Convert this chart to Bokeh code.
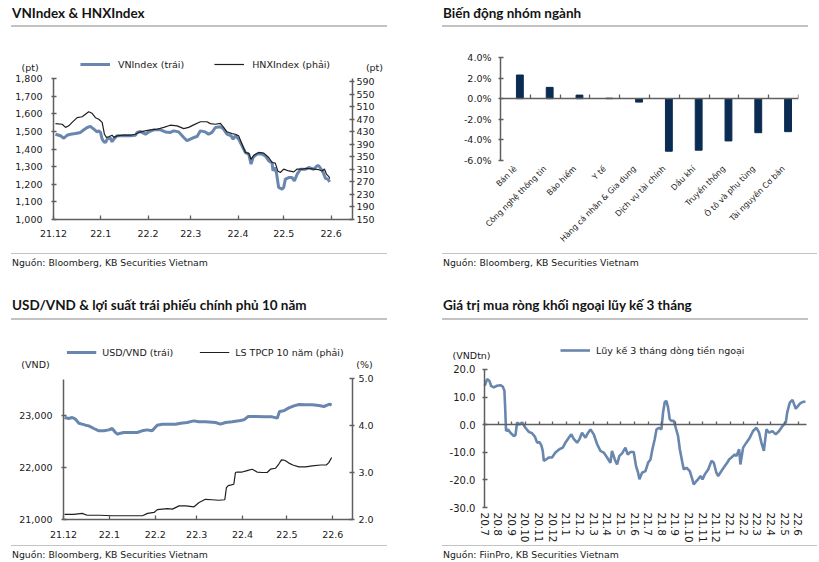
import math
import pandas as pd
from bokeh.plotting import figure
from bokeh.models import (Range1d, LinearAxis, CategoricalAxis, FixedTicker, NumeralTickFormatter,
                          PrintfTickFormatter, Legend, LegendItem, Label, Div, FactorRange,
                          ColumnDataSource)
from bokeh.layouts import column, row
from bokeh.transform import dodge
from bokeh.embed import file_html
from bokeh.resources import INLINE

# ---------------- DATA ----------------
# Panel 1: VNIndex / HNXIndex (x = days since 2021-12-01)
vn_day = [1.3, 4.6, 6.8, 8.9, 11.1, 14.4, 17.7, 19.9, 22.1, 24.2, 26.4, 28.6, 29.7, 30.8, 31.9, 33.0,
          34.1, 35.2, 37.0, 38.4, 39.5, 41.7, 45.0, 50.4, 53.7, 54.8, 57.0, 60.3, 62.4, 65.7, 70.1,
          73.4, 76.6, 78.8, 82.1, 85.4, 87.5, 89.7, 91.9, 94.1, 96.3, 99.5, 101.7, 103.9, 106.1,
          109.4, 111.5, 113.7, 116.4, 117.7, 119.2, 121.4, 123.6, 125.8, 128.0, 129.5, 130.8,
          133.4, 136.7, 138.9, 141.1, 143.3, 143.9, 144.8, 146.1, 147.6, 149.8, 150.9, 152.0,
          154.2, 156.4, 157.9, 159.7, 161.9, 165.2, 167.4, 170.6, 172.8, 173.9, 175.5, 176.8,
          178.3, 179.8, 181.1]
vn_val = [1484, 1475, 1461, 1478, 1484, 1488, 1494, 1509, 1522, 1528, 1513, 1497, 1503, 1494, 1456,
          1441, 1437, 1456, 1465, 1441, 1456, 1475, 1475, 1475, 1478, 1494, 1499, 1484, 1497, 1509,
          1509, 1497, 1494, 1503, 1497, 1465, 1447, 1456, 1465, 1471, 1503, 1497, 1484, 1494, 1522,
          1526, 1513, 1484, 1475, 1456, 1475, 1456, 1418, 1380, 1371, 1314, 1352, 1371, 1371, 1361,
          1333, 1320, 1276, 1295, 1267, 1182, 1172, 1182, 1229, 1238, 1238, 1219, 1257, 1285, 1285,
          1295, 1285, 1305, 1305, 1285, 1267, 1233, 1229, 1214]
hnx_day = [1.3, 5.7, 7.9, 10.0, 12.2, 15.5, 18.8, 20.9, 23.1, 25.3, 27.5, 29.7, 31.9, 33.4, 34.7,
           36.2, 38.4, 39.5, 41.7, 45.0, 50.4, 53.7, 55.9, 59.2, 63.5, 67.9, 72.3, 76.6, 81.0, 85.4,
           88.6, 91.9, 96.3, 100.6, 102.8, 106.1, 109.4, 111.5, 113.7, 117.0, 119.2, 121.4, 123.6,
           125.8, 128.0, 129.5, 131.3, 134.5, 137.8, 141.1, 143.3, 145.4, 147.0, 148.7, 150.9,
           154.2, 157.5, 159.7, 163.0, 166.2, 170.6, 173.9, 176.1, 177.6, 178.9, 180.5, 181.1]
hnx_val = [456, 454, 444, 449, 460, 475, 478, 486, 494, 489, 475, 470, 460, 422, 412, 414, 419, 412,
           417, 419, 419, 422, 428, 432, 436, 438, 444, 451, 449, 440, 444, 452, 462, 462, 456, 454,
           457, 444, 430, 424, 422, 417, 390, 364, 361, 342, 355, 364, 362, 348, 332, 330, 305, 300,
           311, 305, 302, 311, 311, 313, 311, 309, 305, 311, 295, 287, 281]
month_labels = ["21.12", "22.1", "22.2", "22.3", "22.4", "22.5", "22.6"]
vn_ticks = [1000, 1100, 1200, 1300, 1400, 1500, 1600, 1700, 1800]
hnx_ticks = [150, 190, 230, 270, 310, 350, 390, 430, 470, 510, 550, 590]

# Panel 2: sector performance (%)
sectors = ["Bán lẻ", "Công nghệ thông tin", "Bảo hiểm", "Y tế", "Hàng cá nhân & Gia dụng",
           "Dịch vụ tài chính", "Dầu khí", "Truyền thông", "Ô tô và phụ tùng", "Tài nguyên Cơ bản"]
sector_change = [2.3, 1.1, 0.35, 0.05, -0.33, -5.1, -5.0, -4.1, -3.3, -3.2]
pct_ticks = [-6, -4, -2, 0, 2, 4]

# Panel 3: USD/VND and 10Y government bond yield
usd_day = [0.7, 3.6, 5.9, 8.1, 10.4, 12.6, 14.9, 17.1, 20.5, 23.9, 27.3, 30.6, 32.9, 35.1, 36.7,
           38.5, 40.8, 45.2, 49.8, 53.1, 56.5, 59.9, 63.3, 66.7, 72.3, 75.7, 79.1, 83.6, 88.1, 91.4,
           95.9, 102.7, 106.1, 109.5, 114.0, 118.5, 121.9, 124.8, 129.8, 136.5, 141.0, 144.4, 146.0,
           148.9, 152.3, 155.7, 159.1, 163.6, 168.1, 172.6, 176.0, 178.2, 179.8, 181.2]
usd_val = [22962, 22942, 22962, 22929, 22852, 22833, 22814, 22801, 22750, 22705, 22705, 22724,
           22750, 22673, 22641, 22660, 22673, 22673, 22673, 22705, 22724, 22705, 22814, 22833,
           22833, 22833, 22852, 22865, 22897, 22878, 22878, 22865, 22833, 22865, 22878, 22897,
           22917, 22981, 22981, 22974, 22974, 22949, 23077, 23090, 23147, 23186, 23212, 23205,
           23205, 23192, 23173, 23199, 23218, 23199]
bond_day = [0.7, 7.0, 12.6, 16.0, 24.3, 33.1, 42.1, 53.4, 56.8, 61.2, 63.4, 66.8, 70.2, 73.6, 78.1,
            82.6, 88.2, 91.6, 95.9, 100.4, 104.9, 109.0, 110.1, 111.3, 112.8, 115.1, 116.2, 117.3,
            120.7, 124.1, 127.5, 130.8, 134.2, 137.6, 139.9, 143.2, 145.5, 147.3, 149.5, 152.3,
            155.0, 159.1, 163.6, 168.1, 173.7, 177.6, 179.3, 181.2]
bond_val = [2.11, 2.11, 2.13, 2.09, 2.09, 2.08, 2.08, 2.08, 2.13, 2.15, 2.21, 2.22, 2.23, 2.22, 2.29,
            2.29, 2.27, 2.36, 2.43, 2.42, 2.41, 2.42, 2.68, 2.72, 2.73, 2.75, 3.00, 3.01, 3.01, 3.04,
            3.07, 3.01, 3.00, 3.00, 3.07, 3.09, 3.18, 3.27, 3.26, 3.20, 3.16, 3.12, 3.12, 3.14, 3.16,
            3.16, 3.21, 3.32]
usd_ticks = [21000, 22000, 23000]
bond_ticks = [2.0, 3.0, 4.0, 5.0]

# Panel 4: 3-month cumulative foreign net buying (VND tn), x = months since 2020-07
flow_month = [0.02, 0.19, 0.36, 0.48, 0.68, 0.92, 1.17, 1.34, 1.46, 1.53, 1.58, 1.73, 1.90, 2.15,
              2.27, 2.39, 2.56, 2.76, 3.00, 3.25, 3.49, 3.69, 3.86, 4.03, 4.17, 4.27, 4.35, 4.52,
              4.71, 4.95, 5.20, 5.49, 5.74, 5.93, 6.18, 6.37, 6.54, 6.79, 6.96, 7.15, 7.40, 7.60,
              7.77, 8.01, 8.26, 8.50, 8.74, 8.99, 9.23, 9.35, 9.55, 9.72, 9.89, 10.09, 10.33, 10.50,
              10.70, 10.94, 11.11, 11.26, 11.36, 11.55, 11.80, 11.99, 12.17, 12.31, 12.48, 12.61,
              12.80, 12.97, 13.09, 13.22, 13.34, 13.46, 13.58, 13.70, 13.88, 14.02, 14.19, 14.32,
              14.51, 14.61, 14.81, 15.05, 15.24, 15.34, 15.54, 15.66, 15.83, 15.98, 16.15, 16.40,
              16.64, 16.81, 17.00, 17.13, 17.37, 17.61, 17.79, 17.93, 18.10, 18.35, 18.47, 18.67,
              18.76, 18.96, 19.20, 19.45, 19.69, 19.94, 20.13, 20.30, 20.48, 20.67, 20.87, 21.11,
              21.35, 21.60, 21.85, 22.09, 22.19, 22.38, 22.58, 22.82, 22.99, 23.16, 23.36, 23.53]
flow_val = [14.1, 16.5, 15.9, 14.1, 13.5, 14.1, 14.3, 13.8, 12.3, 4.4, -2.3, -1.7, -2.9, -4.1,
            -3.8, 0.8, 0.1, 0.8, -1.1, -2.6, -3.1, -4.3, -6.5, -6.3, -7.5, -9.5, -13.1, -12.6,
            -11.9, -11.9, -10.1, -8.9, -8.3, -6.5, -4.7, -3.5, -5.1, -6.5, -5.3, -2.9, -4.7, -2.9,
            -1.7, -3.5, -7.1, -9.5, -10.1, -11.9, -13.8, -9.5, -12.6, -14.4, -11.3, -10.4, -8.3,
            -10.8, -9.9, -9.9, -15.0, -17.4, -19.8, -17.4, -16.8, -13.8, -12.6, -8.9, -5.3, -1.7,
            -1.1, -1.7, 4.4, 8.3, 8.6, 6.2, 2.0, 1.4, 1.4, -1.1, -4.1, -8.9, -13.8, -16.2, -15.6,
            -16.8, -19.8, -21.6, -20.4, -19.8, -18.6, -19.8, -18.0, -16.2, -13.1, -13.8, -17.4,
            -18.6, -16.8, -15.0, -13.8, -12.6, -11.9, -10.8, -11.3, -8.9, -14.4, -8.3, -6.5, -4.7,
            -2.3, -1.1, -2.9, -6.5, -9.5, -1.7, -2.9, -2.3, -3.5, -2.3, -0.5, 0.8, 4.4, 8.0, 9.0,
            5.8, 6.8, 7.8, 8.3, 8.3]
flow_labels = ["20.7", "20.8", "20.9", "20.10", "20.11", "20.12", "21.1", "21.2", "21.3", "21.4",
               "21.5", "21.6", "21.7", "21.8", "21.9", "21.10", "21.11", "21.12", "22.1", "22.2",
               "22.3", "22.4", "22.5", "22.6"]
flow_ticks = [-30, -20, -10, 0, 10, 20]

# ---------------- STYLE ----------------
FONT = "DejaVu Sans"
AXIS_COLOR = "#5f5f5f"
BLUE = "#6886ae"
DARK = "#1f1f1f"
BAR = "#0b2c52"
TXT = "#1a1a1a"

month_days = [int(d.days) for d in
              (pd.date_range("2021-12-01", periods=len(month_labels), freq="MS") - pd.Timestamp("2021-12-01"))]
DAY_END_1 = 196      # right end of the date axis, panel 1
DAY_END_3 = 195.3    # right end of the date axis, panel 3
MONTH_END_4 = 23.6   # right end of the month axis, panel 4


def style_axis(ax, size="9.5px", tin=3, tout=2, standoff=5):
    ax.axis_line_color = AXIS_COLOR
    ax.axis_line_width = 1.5
    ax.major_tick_line_color = AXIS_COLOR
    ax.major_tick_line_width = 1.3
    ax.major_tick_in = tin
    ax.major_tick_out = tout
    ax.minor_tick_line_color = None
    ax.major_label_text_font = FONT
    ax.major_label_text_font_size = size
    ax.major_label_text_color = TXT
    ax.major_label_standoff = standoff


def base_fig(width, height, x_range, y_range, ml=0, mr=0, mt=0, mb=0):
    p = figure(width=width, height=height, x_range=x_range, y_range=y_range,
               output_backend="svg", toolbar_location=None, x_axis_type=None, y_axis_type=None,
               min_border_left=ml, min_border_right=mr, min_border_top=mt, min_border_bottom=mb)
    p.outline_line_color = None
    p.background_fill_color = "white"
    p.border_fill_color = "white"
    return p


def legend(items, location, margin=0, standoff=6, spacing=26):
    lg = Legend(items=items, location=location, orientation="horizontal")
    lg.border_line_color = None
    lg.background_fill_alpha = 0
    lg.label_text_font = FONT
    lg.label_text_font_size = "9.5px"
    lg.label_text_color = TXT
    lg.glyph_width = 30
    lg.glyph_height = 12
    lg.label_height = 12
    lg.label_standoff = standoff
    lg.spacing = spacing
    lg.padding = 0
    lg.margin = margin
    return lg


def unit_label(x, y, text, **kw):
    return Label(x=x, y=y, text=text, text_align="center", text_baseline="middle",
                 text_font=FONT, text_font_size="9.5px", text_color=TXT, **kw)


def title_div(text, ml, width, pt, pb):
    html = (f'<div style="margin-left:{ml}px;width:{width}px;padding-top:{pt}px;padding-bottom:{pb}px;'
            f'border-bottom:2px solid #c3c3c3;font-family:Lato;font-weight:700;font-size:13.5px;'
            f'line-height:14px;color:#141414;white-space:nowrap;padding-left:1px">{text}</div>')
    return Div(text=html, width=ml + width + 2, height=pt + pb + 16, margin=0)


def footer_div(text, ml, width, mt, height):
    html = (f'<div style="margin-top:{mt}px;margin-left:{ml}px;width:{width}px;border-top:1px solid #c3c3c3;'
            f'padding-top:3px;font-family:\'DejaVu Sans\';font-size:9.3px;line-height:11px;color:#1a1a1a;'
            f'white-space:nowrap;padding-left:1px">{text}</div>')
    return Div(text=html, width=ml + width + 2, height=height, margin=0)


# ---------------- PANEL 1 ----------------
p1 = base_fig(410, 223, Range1d(-34.74, 234.02), Range1d(824.1, 2089.4))
p1.extra_y_ranges = {"hnx": Range1d(51.1, 762.8)}
ax = LinearAxis(ticker=FixedTicker(ticks=vn_ticks), formatter=NumeralTickFormatter(format="0,0"),
                bounds=(1000, 1800), fixed_location=0)
style_axis(ax, standoff=9)
p1.add_layout(ax, "left")
ax = LinearAxis(y_range_name="hnx", ticker=FixedTicker(ticks=hnx_ticks), bounds=(150, 600),
                fixed_location=DAY_END_1)
style_axis(ax, standoff=2)
p1.add_layout(ax, "right")
ax = LinearAxis(ticker=FixedTicker(ticks=month_days), bounds=(0, DAY_END_1), fixed_location=1000,
                major_label_overrides={d: s for d, s in zip(month_days, month_labels)})
style_axis(ax, tin=4, tout=0, standoff=11)
p1.add_layout(ax, "below")
r_vn = p1.line(vn_day, vn_val, color=BLUE, line_width=3)
r_hnx = p1.line(hnx_day, hnx_val, y_range_name="hnx", color=DARK, line_width=1.2)
p1.add_layout(legend([LegendItem(label="VNIndex (trái)", renderers=[r_vn]),
                      LegendItem(label="HNXIndex (phải)", renderers=[r_hnx])], "top_center", 31,
                     standoff=8, spacing=30))
p1.add_layout(unit_label(-15.4, 1862, "(pt)"))
p1.add_layout(unit_label(210.4, 1862, "(pt)"))

# ---------------- PANEL 2 ----------------
p2 = base_fig(409, 223, FactorRange(factors=sectors, range_padding=0), Range1d(-6, 4), 90, 21, 30, 90)
ax = LinearAxis(ticker=FixedTicker(ticks=pct_ticks), formatter=PrintfTickFormatter(format="%.1f%%"))
style_axis(ax, standoff=7)
p2.add_layout(ax, "left")
ax = CategoricalAxis(major_label_orientation=math.pi / 4)
style_axis(ax, size="8px", standoff=5)
ax.axis_line_color = None
ax.major_tick_line_color = None
p2.add_layout(ax, "below")
ax = LinearAxis(fixed_location=0, ticker=FixedTicker(ticks=list(range(1, len(sectors) + 1))))
style_axis(ax, tin=4, tout=0)
ax.major_label_text_color = None
p2.add_layout(ax, "below")
src2 = ColumnDataSource(dict(sector=sectors, change=sector_change))
p2.vbar(x=dodge("sector", 0.15, range=p2.x_range), top="change", bottom=0, width=0.23,
        source=src2, color=BAR)

# ---------------- PANEL 3 ----------------
p3 = base_fig(410, 223, Range1d(-42.57, 234.49), Range1d(20538.5, 24826.9))
p3.extra_y_ranges = {"bond": Range1d(1.4894, 6.234)}
ax = LinearAxis(ticker=FixedTicker(ticks=usd_ticks), formatter=NumeralTickFormatter(format="0,0"),
                bounds=(21000, 23700), fixed_location=0)
style_axis(ax, standoff=9)
p3.add_layout(ax, "left")
ax = LinearAxis(y_range_name="bond", ticker=FixedTicker(ticks=bond_ticks),
                formatter=PrintfTickFormatter(format="%.1f"), bounds=(2.0, 5.0),
                fixed_location=DAY_END_3)
style_axis(ax, standoff=4)
p3.add_layout(ax, "right")
ax = LinearAxis(ticker=FixedTicker(ticks=month_days), bounds=(0, DAY_END_3), fixed_location=21000,
                major_label_overrides={d: s for d, s in zip(month_days, month_labels)})
style_axis(ax, tin=4, tout=0, standoff=11)
p3.add_layout(ax, "below")
r_usd = p3.line(usd_day, usd_val, color=BLUE, line_width=3)
r_bond = p3.line(bond_day, bond_val, y_range_name="bond", color=DARK, line_width=1.2)
p3.add_layout(legend([LegendItem(label="USD/VND (trái)", renderers=[r_usd]),
                      LegendItem(label="LS TPCP 10 năm (phải)", renderers=[r_bond])], "top_center", 26))
p3.add_layout(unit_label(-18.9, 23981, "(VND)"))
p3.add_layout(unit_label(203.4, 23981, "(%)"))

# ---------------- PANEL 4 ----------------
p4 = base_fig(409, 223, Range1d(-5.425, 24.56), Range1d(-43.04, 37.75))
ax = LinearAxis(ticker=FixedTicker(ticks=flow_ticks), formatter=PrintfTickFormatter(format="%.1f"),
                bounds=(-30, 20), fixed_location=0)
style_axis(ax, size="10px", standoff=7)
p4.add_layout(ax, "left")
flow_tick_pos = list(range(len(flow_labels)))
ax = LinearAxis(ticker=FixedTicker(ticks=flow_tick_pos), fixed_location=-30,
                major_label_overrides={i: s for i, s in zip(flow_tick_pos, flow_labels)},
                major_label_orientation="vertical")
style_axis(ax, size="10.5px", standoff=3)
ax.axis_line_color = None
ax.major_tick_line_color = None
p4.add_layout(ax, "below")
ax = LinearAxis(fixed_location=0, ticker=FixedTicker(ticks=flow_tick_pos), bounds=(0, MONTH_END_4))
style_axis(ax, tin=3, tout=0)
ax.major_label_text_color = None
p4.add_layout(ax, "below")
r_flow = p4.line(flow_month, flow_val, color=BLUE, line_width=2.6)
p4.add_layout(legend([LegendItem(label="Lũy kế 3 tháng dòng tiền ngoại", renderers=[r_flow])],
                     (150, 187)))
p4.add_layout(unit_label(-0.95, 25.1, "(VNDtn)"))

# ---------------- LAYOUT ----------------
SRC1 = "Nguồn: Bloomberg, KB Securities Vietnam"
SRC2 = "Nguồn: FiinPro, KB Securities Vietnam"
c1 = column(title_div("VNIndex &amp; HNXIndex", 11, 376, 6, 5), p1, footer_div(SRC1, 11, 376, 3, 20))
c2 = column(title_div("Biến động nhóm ngành", 32, 366, 6, 5), p2, footer_div(SRC1, 32, 375, 3, 20))
c3 = column(title_div("USD/VND &amp; lợi suất trái phiếu chính phủ 10 năm", 11, 376, 6, 6), p3,
            footer_div(SRC1, 11, 376, 2, 19))
c4 = column(title_div("Giá trị mua ròng khối ngoại lũy kế 3 tháng", 32, 366, 6, 6), p4,
            footer_div(SRC2, 32, 375, 2, 19))
spacer = Div(text="", width=10, height=22, margin=0)
page = column(row(c1, c2), spacer, row(c3, c4))

open("out.html", "w").write(file_html(page, INLINE))
